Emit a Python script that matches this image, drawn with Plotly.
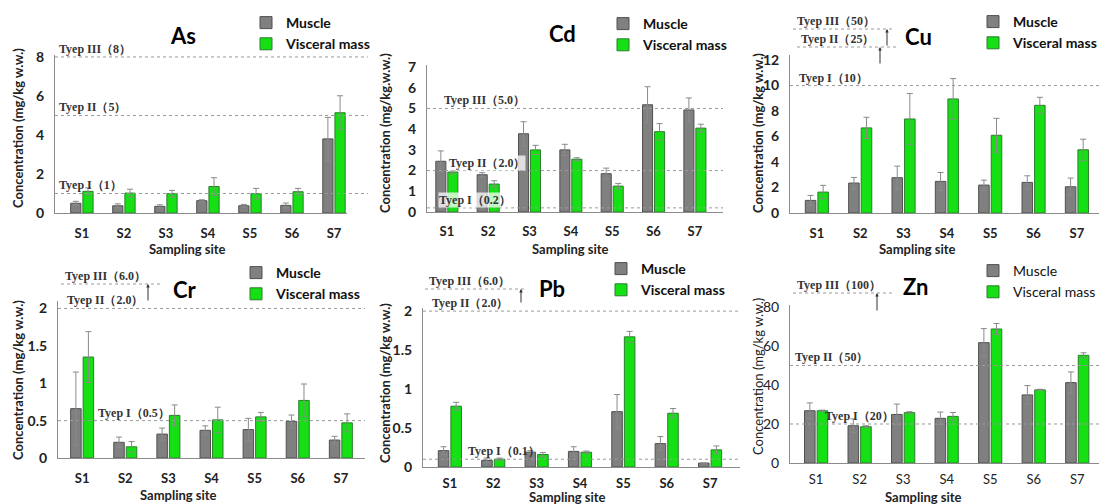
import plotly.graph_objects as go

W, H = 1099, 504
sites = ["S1", "S2", "S3", "S4", "S5", "S6", "S7"]

# ---- data (mg/kg w.w.) ----
as_muscle = [0.50, 0.37, 0.34, 0.63, 0.37, 0.39, 3.80]
as_muscle_err = [0.10, 0.10, 0.08, 0.05, 0.07, 0.12, 1.10]
as_visceral = [1.11, 1.02, 0.99, 1.36, 0.99, 1.09, 5.14]
as_visceral_err = [0.18, 0.20, 0.17, 0.45, 0.27, 0.17, 0.87]

cd_muscle = [2.45, 1.80, 3.78, 3.00, 1.85, 5.18, 4.93]
cd_muscle_err = [0.50, 0.10, 0.58, 0.27, 0.27, 0.87, 0.58]
cd_visceral = [1.93, 1.35, 3.00, 2.55, 1.25, 3.88, 4.05]
cd_visceral_err = [0.08, 0.16, 0.22, 0.07, 0.13, 0.39, 0.19]

cu_muscle = [0.99, 2.35, 2.77, 2.48, 2.19, 2.40, 2.06]
cu_muscle_err = [0.39, 0.44, 0.91, 0.70, 0.39, 0.52, 0.68]
cu_visceral = [1.64, 6.68, 7.38, 8.95, 6.10, 8.45, 4.96]
cu_visceral_err = [0.53, 0.83, 2.00, 1.60, 1.33, 0.63, 0.83]

cr_muscle = [0.66, 0.21, 0.32, 0.37, 0.38, 0.49, 0.24]
cr_muscle_err = [0.49, 0.07, 0.08, 0.06, 0.15, 0.085, 0.05]
cr_visceral = [1.35, 0.15, 0.57, 0.51, 0.55, 0.77, 0.47]
cr_visceral_err = [0.34, 0.07, 0.14, 0.17, 0.06, 0.22, 0.12]

pb_muscle = [0.21, 0.085, 0.19, 0.20, 0.71, 0.30, 0.05]
pb_muscle_err = [0.05, 0.03, 0.02, 0.06, 0.22, 0.09, 0.0]
pb_visceral = [0.78, 0.10, 0.16, 0.19, 1.67, 0.69, 0.22]
pb_visceral_err = [0.05, 0.015, 0.025, 0.015, 0.07, 0.06, 0.05]

zn_muscle = [26.8, 19.1, 24.9, 22.9, 61.7, 34.9, 41.2]
zn_muscle_err = [4.0, 3.5, 5.3, 3.2, 7.2, 4.8, 5.5]
zn_visceral = [26.8, 18.6, 25.8, 23.9, 68.7, 37.5, 55.2]
zn_visceral_err = [0.3, 0.5, 0.5, 2.0, 2.8, 0.3, 1.3]

# guideline levels (Type I, II, III)
as_levels = [1, 5, 8]
cd_levels = [0.2, 2.0, 5.0]
cu_levels = [10, 25, 50]
cr_levels = [0.5, 2.0, 6.0]
pb_levels = [0.1, 2.0, 6.0]
zn_levels = [20, 50, 100]
as_level_labels = ["Tyep I（1）", "Tyep II（5）", "Tyep III（8）"]
cd_level_labels = ["Tyep I（0.2）", "Tyep II（2.0）", "Tyep III（5.0）"]
cu_level_labels = ["Tyep I（10）", "Tyep II（25）", "Tyep III（50）"]
cr_level_labels = ["Tyep I（0.5）", "Tyep II（2.0）", "Tyep III（6.0）"]
pb_level_labels = ["Tyep I（0.1）", "Tyep II（2.0）", "Tyep III（6.0）"]
zn_level_labels = ["Tyep I（20）", "Tyep II（50）", "Tyep III（100）"]

SANS = "Lato, 'Open Sans', sans-serif"
SERIF = "'Liberation Serif', 'Times New Roman', serif"
GRAY = "#808080"
GREEN = "#14e014"

def fx(px):
    return px / W

def fy(py):
    return 1 - py / H

panels = [
    dict(name="As", m=as_muscle, me=as_muscle_err, v=as_visceral, ve=as_visceral_err,
         lv=as_levels, ll=as_level_labels, ytitle="Concentration (mg/kg w.w.)",
         x0=55, x1=347, ytop=55, ybot=213, ymax=8.1, xr=[-0.64, 6.31],
         ytv=[0, 2, 4, 6, 8], ytt=["0", "2", "4", "6", "8"], ext=368,
         title=(183, 36), leg=(246, 7), yt=(18, 128), xt=(187, 249), bold=True, xso=8,
         onaxis=[(0, 58), (1, 58), (2, 58)], above=[]),
    dict(name="Cd", m=cd_muscle, me=cd_muscle_err, v=cd_visceral, ve=cd_visceral_err,
         lv=cd_levels, ll=cd_level_labels, ytitle="Concentration (mg/kg.w.w.)",
         x0=427, x1=723, ytop=65, ybot=212, ymax=7.1, xr=[-0.48, 6.68],
         ytv=[0, 1, 2, 3, 4, 5, 6, 7], ytt=["0", "1", "2", "3", "4", "5", "6", "7"], ext=723,
         title=(562, 34), leg=(603, 8), yt=(385, 133), xt=(570, 249), bold=True, xso=7,
         onaxis=[(0, 438), (1, 448), (2, 443)], above=[], bg=True),
    dict(name="Cu", m=cu_muscle, me=cu_muscle_err, v=cu_visceral, ve=cu_visceral_err,
         lv=cu_levels, ll=cu_level_labels, ytitle="Concentration (mg/kg w.w.)",
         x0=790, x1=1099, ytop=55, ybot=213, ymax=12.4, xr=[-0.62, 6.51],
         ytv=[0, 2, 4, 6, 8, 10, 12], ytt=["0", "2", "4", "6", "8", "10", "12"], ext=1099,
         title=(918, 37), leg=(973, 6), yt=(758, 133), xt=(917, 249), bold=True, xso=8,
         onaxis=[(0, 798)],
         above=[(2, 793, 29, 887, 47), (1, 797, 47, 880, 65)]),
    dict(name="Cr", m=cr_muscle, me=cr_muscle_err, v=cr_visceral, ve=cr_visceral_err,
         lv=cr_levels, ll=cr_level_labels, ytitle="Concentration (mg/kg w.w.)",
         x0=58, x1=365, ytop=301, ybot=458, ymax=2.1, xr=[-0.56, 6.56],
         ytv=[0, 0.5, 1, 1.5, 2], ytt=["0", "0.5", "1", "1.5", "2"], ext=365,
         title=(185, 289), leg=(236, 257), yt=(18, 380), xt=(178, 495), bold=True, xso=8,
         onaxis=[(0, 97), (1, 66)],
         above=[(2, 61, 284, 148, 302)]),
    dict(name="Pb", m=pb_muscle, me=pb_muscle_err, v=pb_visceral, ve=pb_visceral_err,
         lv=pb_levels, ll=pb_level_labels, ytitle="Concentration (mg/kg w.w.)",
         x0=423, x1=740, ytop=308, ybot=467, ymax=2.04, xr=[-0.62, 6.69],
         ytv=[0, 0.5, 1, 1.5, 2], ytt=["0", "0.5", "1", "1.5", "2"], ext=740,
         title=(552, 288), leg=(601, 253), yt=(385, 383), xt=(567, 497), bold=True, xso=4,
         onaxis=[(0, 467), (1, 431)],
         above=[(2, 425, 289, 521, 304)]),
    dict(name="Zn", m=zn_muscle, me=zn_muscle_err, v=zn_visceral, ve=zn_visceral_err,
         lv=zn_levels, ll=zn_level_labels, ytitle="Concentration (mg/kg w.w.)",
         x0=790, x1=1099, ytop=305, ybot=463, ymax=81, xr=[-0.6, 6.5],
         ytv=[0, 20, 40, 60, 80], ytt=["0", "20", "40", "60", "80"], ext=1099,
         title=(915, 286), leg=(973, 255), yt=(758, 377), xt=(923, 497), bold=False, xso=4,
         onaxis=[(0, 824), (1, 794)],
         above=[(2, 793, 293, 877, 312)]),
]

fig = go.Figure()
shapes = []
annotations = []
layout = dict(
    width=W, height=H, margin=dict(l=0, r=0, t=0, b=0, pad=0, autoexpand=False),
    paper_bgcolor="white", plot_bgcolor="white",
    barmode="group", bargap=0.42, bargroupgap=0.16,
    showlegend=True,
)

for i, p in enumerate(panels, start=1):
    sfx = "" if i == 1 else str(i)
    xa, ya = "x" + sfx, "y" + sfx
    lg = "legend" + sfx
    weight = "bold" if p["bold"] else "normal"
    fig.add_trace(go.Bar(
        x=sites, y=p["m"], name="Muscle", xaxis=xa, yaxis=ya, legend=lg,
        marker=dict(color=GRAY, line=dict(color="#505050", width=1)),
        error_y=dict(type="data", array=p["me"], color="#8a8a8a", thickness=1, width=3),
    ))
    fig.add_trace(go.Bar(
        x=sites, y=p["v"], name="Visceral mass", xaxis=xa, yaxis=ya, legend=lg,
        marker=dict(color=GREEN, line=dict(color="#2e7d2e", width=1)),
        error_y=dict(type="data", array=p["ve"], color="#8a8a8a", thickness=1, width=3),
    ))
    layout["xaxis" + sfx] = dict(
        domain=[fx(p["x0"]), fx(p["x1"])], anchor=ya, type="category", range=p["xr"],
        showline=True, linecolor="#8c8c8c", linewidth=1, ticks="", showgrid=False,
        zeroline=False, ticklabelstandoff=p["xso"], automargin=False,
        tickfont=dict(family=SANS, size=13, color="#222", weight=weight),
    )
    layout["yaxis" + sfx] = dict(
        domain=[fy(p["ybot"]), fy(p["ytop"])], anchor=xa, range=[0, p["ymax"]],
        tickvals=p["ytv"], ticktext=p["ytt"], automargin=False,
        showline=True, linecolor="#8c8c8c", linewidth=1, ticks="", showgrid=False,
        zeroline=False, ticklabelstandoff=7,
        tickfont=dict(family=SANS, size=14, color="#222", weight=weight),
    )
    layout[lg] = dict(
        x=fx(p["leg"][0]), y=fy(p["leg"][1]), xanchor="left", yanchor="top",
        bgcolor="rgba(0,0,0,0)", itemwidth=30, tracegroupgap=0, traceorder="normal",
        font=dict(family=SANS, size=14, color="#111", weight=weight),
        itemclick=False, itemdoubleclick=False,
    )
    # title
    annotations.append(dict(
        text=p["name"], xref="paper", yref="paper", x=fx(p["title"][0]), y=fy(p["title"][1]),
        xanchor="center", yanchor="middle",
        showarrow=False, font=dict(family=SANS, size=22, color="#000", weight="bold"),
    ))
    # axis titles
    annotations.append(dict(
        text=p["ytitle"], xref="paper", yref="paper", x=fx(p["yt"][0]), y=fy(p["yt"][1]),
        xanchor="center", yanchor="middle", textangle=-90, showarrow=False,
        font=dict(family=SANS, size=13, color="#222", weight=weight),
    ))
    annotations.append(dict(
        text="Sampling site", xref="paper", yref="paper", x=fx(p["xt"][0]), y=fy(p["xt"][1]),
        xanchor="center", yanchor="middle", borderpad=0,
        showarrow=False, font=dict(family=SANS, size=13, color="#222", weight="bold"),
    ))
    width_px = p["x1"] - p["x0"]
    ext = (p["ext"] - p["x0"]) / width_px
    # guideline lines inside the axis
    for k, lx in p["onaxis"]:
        shapes.append(dict(
            type="line", xref=xa + " domain", yref=ya, x0=0, x1=ext,
            y0=p["lv"][k], y1=p["lv"][k], line=dict(color="#9a9a9a", width=1, dash="dot"),
        ))
        annotations.append(dict(
            text=p["ll"][k], xref=xa + " domain", yref=ya,
            x=(lx - p["x0"]) / width_px, y=p["lv"][k], xanchor="left", yanchor="bottom",
            showarrow=False, borderpad=0,
            bgcolor="rgba(255,255,255,0.75)" if p.get("bg") else "rgba(0,0,0,0)",
            font=dict(family=SERIF, size=12, color="#333", weight="bold"),
        ))
    # guideline levels above the axis range (marked with arrows)
    for k, lx, ly, arx, tail in p["above"]:
        shapes.append(dict(
            type="line", xref="paper", yref="paper", x0=fx(lx), x1=fx(lx + 102),
            y0=fy(ly), y1=fy(ly), line=dict(color="#9a9a9a", width=1, dash="dot"),
        ))
        annotations.append(dict(
            text=p["ll"][k], xref="paper", yref="paper", x=fx(lx + 3), y=fy(ly),
            xanchor="left", yanchor="bottom", showarrow=False, borderpad=0,
            font=dict(family=SERIF, size=12, color="#333", weight="bold"),
        ))
        annotations.append(dict(
            text="", xref="paper", yref="paper", x=fx(arx), y=fy(ly),
            ax=0, ay=tail - ly, showarrow=True, arrowhead=2, arrowsize=0.7,
            arrowwidth=1, arrowcolor="#333",
        ))

layout["shapes"] = shapes
layout["annotations"] = annotations
fig.update_layout(**layout)
fig.write_html("out.html")
